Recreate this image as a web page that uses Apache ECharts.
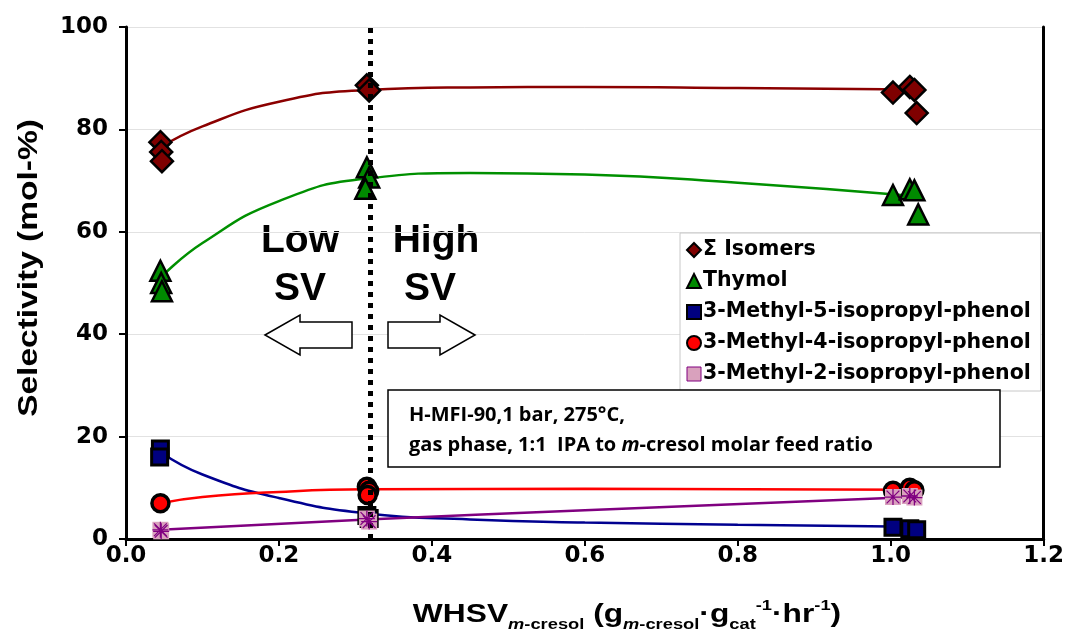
<!DOCTYPE html>
<html><head><meta charset="utf-8">
<script src="https://cdn.jsdelivr.net/npm/echarts@6/dist/echarts.min.js"></script>
<style>html,body{margin:0;padding:0;background:#fff}#c{width:1067px;height:635px}</style>
</head><body><div id="c"></div>
<script>
// ---- data ----
const xTicks = [0, 0.2, 0.4, 0.6, 0.8, 1.0, 1.2];
const yTicks = [0, 20, 40, 60, 80, 100];
const seriesNames = ['Σ Isomers', 'Thymol', '3-Methyl-5-isopropyl-phenol', '3-Methyl-4-isopropyl-phenol', '3-Methyl-2-isopropyl-phenol'];
const isomersPts = [[0.045,77.5],[0.046,75.6],[0.047,73.8],[0.315,88.6],[0.318,87.6],[1.003,87.2],[1.025,88.3],[1.031,87.7],[1.034,83.2]];
const thymolPts  = [[0.045,52.4],[0.046,50.0],[0.047,48.4],[0.315,72.6],[0.318,70.6],[0.313,68.4],[1.003,67.2],[1.025,68.3],[1.031,68.1],[1.036,63.4]];
const m5ipPts    = [[0.045,17.6],[0.044,16.0],[0.315,4.6],[0.318,4.0],[1.003,2.3],[1.025,2.0],[1.034,1.8]];
const m4ipPts    = [[0.045,7.0],[0.315,10.2],[0.318,9.4],[0.316,8.6],[1.003,9.4],[1.025,10.0],[1.031,9.5]];
const m2ipPts    = [[0.045,1.8],[0.046,1.5],[0.315,4.0],[0.318,3.4],[1.003,8.2],[1.025,8.4],[1.031,8.1]];
// trend lines
const isomersTrend = [[0.045,76.5],[0.1,80.6],[0.2,85.4],[0.315,87.7],[0.45,88.2],[0.6,88.3],[0.8,88.1],[1.03,87.8]];
const thymolTrend  = [[0.045,51.0],[0.1,57.8],[0.2,66.0],[0.315,70.4],[0.45,71.5],[0.6,71.2],[0.8,69.6],[1.03,67.0]];
const m5ipTrend    = [[0.045,17.0],[0.1,12.6],[0.2,8.0],[0.315,5.0],[0.45,3.8],[0.6,3.2],[0.8,2.8],[1.03,2.4]];
const m4ipTrend    = [[0.045,7.0],[0.1,8.2],[0.2,9.2],[0.315,9.7],[0.6,9.8],[1.03,9.6]];
const m2ipTrend    = [[0.045,1.8],[0.315,3.8],[0.6,5.6],[1.03,8.2]];
const dividerX = 0.315;

const asterisk = 'path://M9.2,0L10.8,0L10.8,20L9.2,20ZM0,9.2L20,9.2L20,10.8L0,10.8ZM1.5,2.6L2.6,1.5L18.5,17.4L17.4,18.5ZM17.4,1.5L18.5,2.6L2.6,18.5L1.5,17.4Z';

const chart = echarts.init(document.getElementById('c'), null, {renderer:'canvas'});
const F = 'Liberation Sans, Arial, sans-serif';
const FW = 'DejaVu Sans, Liberation Sans, sans-serif';
function trend(name, data, color, w){
  return {name, type:'line', data, smooth:0.5, showSymbol:false, symbol:'none', z:3,
    lineStyle:{color, width:w||2.5}, silent:true};
}
function pts(name, data, symbol, size, color, bw){
  return {name, type:'scatter', data, symbol, symbolSize:size, z:4,
    itemStyle:{color, opacity:1, borderColor:'#000', borderWidth:bw||2}};
}
const option = {
  animation:false,
  backgroundColor:'#fff',
  grid:{left:126, right:21, top:27, bottom:96, containLabel:false},
  xAxis:{type:'value', min:0, max:1.2, interval:0.2,
    axisLine:{show:true, onZero:false, lineStyle:{color:'#000', width:3}},
    axisTick:{show:true, length:7, lineStyle:{color:'#000', width:2}},
    axisLabel:{margin:6, fontFamily:FW, fontWeight:'bold', fontSize:23, color:'#000',
      formatter:v=>{const t=xTicks.find(k=>Math.abs(k-v)<1e-6);return (t!==undefined?t:v).toFixed(1);}},
    splitLine:{show:false}},
  yAxis:[{type:'value', min:0, max:100, interval:20,
    axisLine:{show:true, lineStyle:{color:'#000', width:3}},
    axisTick:{show:true, length:7, lineStyle:{color:'#000', width:2}},
    axisLabel:{margin:18, fontFamily:FW, fontWeight:'bold', fontSize:23, color:'#000',
      formatter:v=>String(yTicks.includes(v)?v:v)},
    splitLine:{show:true, lineStyle:{color:'#e2e2e2', width:1}}},
   {type:'value', min:0, max:100, interval:20, position:'right',
    axisLine:{show:true, lineStyle:{color:'#000', width:3}}, axisTick:{show:false}, axisLabel:{show:false}, splitLine:{show:false}}],
  legend:{orient:'vertical', left:680, top:233,
    backgroundColor:'#fff', borderColor:'#c8c8c8', borderWidth:1, padding:[5,10,5,6],
    itemGap:7, itemWidth:14, itemHeight:14,
    textStyle:{fontFamily:FW, fontWeight:'bold', fontSize:20.5, color:'#000', padding:[0,0,0,-3], lineHeight:24},
    data:[
      {name:seriesNames[0], icon:'diamond'},
      {name:seriesNames[1], icon:'triangle'},
      {name:seriesNames[2], icon:'rect'},
      {name:seriesNames[3], icon:'circle'},
      {name:seriesNames[4], icon:'rect', itemStyle:{color:'#d9a1bd', borderColor:'#800080', borderWidth:1}}
    ]},
  series:[
    trend('t0', isomersTrend, '#8b0000'),
    trend('t1', thymolTrend, '#009000'),
    trend('t2', m5ipTrend, '#000090'),
    trend('t3', m4ipTrend, '#ff0000'),
    trend('t4', m2ipTrend, '#800080'),
    pts(seriesNames[0], isomersPts, 'diamond', 22, '#7f0000', 2.5),
    pts(seriesNames[1], thymolPts, 'triangle', 20, '#008a00', 2.5),
    pts(seriesNames[2], m5ipPts, 'rect', 16, '#000080', 3),
    pts(seriesNames[3], m4ipPts, 'circle', 17, '#ff0000', 3.5),
    {name:seriesNames[4], type:'scatter', data:m2ipPts, symbol:'rect', symbolSize:16, z:4,
      itemStyle:{color:'#d9a1bd', opacity:1, borderWidth:0}},
    {name:'m2ipStar', type:'scatter', data:m2ipPts, symbol:asterisk, symbolSize:16, z:5,
      itemStyle:{color:'#800080', opacity:1}},
    {name:'divider', type:'line', data:[], z:6,
      markLine:{silent:true, symbol:'none', label:{show:false},
        lineStyle:{color:'#000', type:[5,6], width:5},
        data:[{xAxis:dividerX}]}}
  ],
  graphic:[
    {type:'text', x:30, y:268, rotation:Math.PI/2, scaleX:1.24, z:11, style:{text:'Selectivity (mol-%)', fontFamily:F, fontWeight:'bold', fontSize:27, fill:'#000', align:'center', verticalAlign:'middle'}},
    {type:'text', x:300, y:222, style:{text:'Low', fontFamily:F, fontWeight:'bold', fontSize:39, fill:'#000', align:'center'}},
    {type:'text', x:300, y:270, style:{text:'SV', fontFamily:F, fontWeight:'bold', fontSize:39, fill:'#000', align:'center'}},
    {type:'text', x:436, y:222, style:{text:'High', fontFamily:F, fontWeight:'bold', fontSize:39, fill:'#000', align:'center'}},
    {type:'text', x:430, y:270, style:{text:'SV', fontFamily:F, fontWeight:'bold', fontSize:39, fill:'#000', align:'center'}},
    {type:'polygon', shape:{points:[[265,335],[300,315],[300,322],[352,322],[352,348],[300,348],[300,355]]},
      style:{fill:'#fff', stroke:'#000', lineWidth:1.5}, z:10},
    {type:'polygon', shape:{points:[[475,335],[440,315],[440,322],[388,322],[388,348],[440,348],[440,355]]},
      style:{fill:'#fff', stroke:'#000', lineWidth:1.5}, z:10},
    {type:'rect', shape:{x:388, y:390, width:612, height:77}, style:{fill:'#fff', stroke:'#000', lineWidth:1.5}, z:10},
    {type:'text', x:409, y:405, z:11, style:{text:'H-MFI-90,1 bar, 275°C,', fontFamily:'Open Sans', fontWeight:'bold', fontSize:20, fill:'#000'}},
    {type:'text', x:409, y:435, z:11, style:{
      text:'{n|gas phase, 1:1  IPA to }{i|m}{n|-cresol molar feed ratio}',
      rich:{n:{fontFamily:'Open Sans', fontWeight:'bold', fontSize:20, fill:'#000'},
            i:{fontFamily:'Open Sans', fontWeight:'bold', fontStyle:'italic', fontSize:20, fill:'#000'}}}},
    {type:'text', x:627, y:598, scaleX:1.22, z:11, style:{
      text:'{b|WHSV}{si|m}{s|-cresol}{b| (g}{si|m}{s|-cresol}{b|·g}{s|cat}{p|-1}{b|·hr}{p|-1}{b|)}',
      align:'center',
      rich:{
        b:{fontFamily:F, fontWeight:'bold', fontSize:26, fill:'#000', lineHeight:34, verticalAlign:'middle'},
        s:{fontFamily:F, fontWeight:'bold', fontSize:15, fill:'#000', lineHeight:34, verticalAlign:'bottom'},
        si:{fontFamily:F, fontWeight:'bold', fontStyle:'italic', fontSize:15, fill:'#000', lineHeight:34, verticalAlign:'bottom'},
        p:{fontFamily:F, fontWeight:'bold', fontSize:15, fill:'#000', lineHeight:34, verticalAlign:'top'}
      }}}
  ]
};
chart.setOption(option);
</script></body></html>
